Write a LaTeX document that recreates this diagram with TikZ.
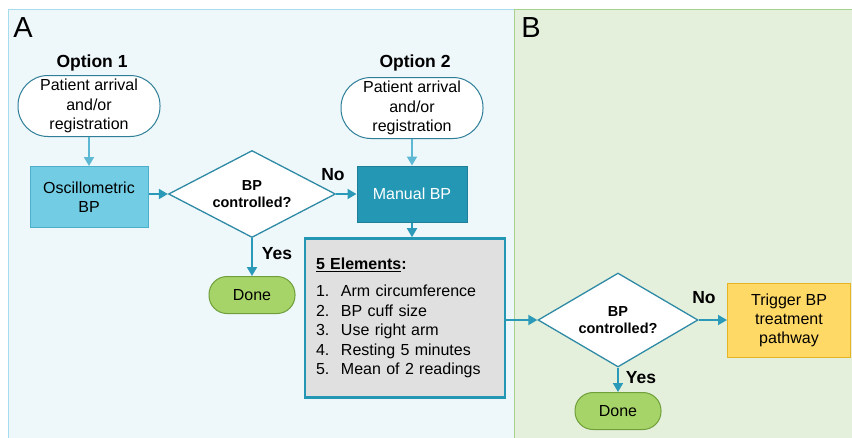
\documentclass[tikz,border=0pt]{standalone}
\usepackage{fontspec}
\setmainfont{Liberation Sans}
\usetikzlibrary{shapes.geometric,arrows.meta}
\definecolor{panelafill}{HTML}{EEF7FA}
\definecolor{panelaline}{HTML}{A6DCEB}
\definecolor{panelbfill}{HTML}{E5F0DC}
\definecolor{panelbline}{HTML}{A9D18E}
\definecolor{startline}{HTML}{2E7F97}
\definecolor{oscfill}{HTML}{71CCE4}
\definecolor{oscline}{HTML}{4BAFCB}
\definecolor{decline}{HTML}{2E8AA5}
\definecolor{manualfill}{HTML}{2497B4}
\definecolor{manualline}{HTML}{1F7F99}
\definecolor{elemfill}{HTML}{E0E0E0}
\definecolor{donefill}{HTML}{A7D468}
\definecolor{doneline}{HTML}{6E9F3A}
\definecolor{trigfill}{HTML}{FFD966}
\definecolor{trigline}{HTML}{E6B422}
\definecolor{flowcol}{HTML}{2A9AB8}
\definecolor{flowlightcol}{HTML}{5DB9D3}
\def\bodyfont{\fontsize{16}{19.5}\selectfont}
\tikzset{
	panellabel/.style={font=\fontsize{29}{32}\selectfont, inner sep=0pt},
	heading/.style={font=\bfseries\fontsize{17.5}{20}\selectfont, inner sep=0pt},
	answer/.style={font=\bfseries\fontsize{17.5}{20}\selectfont, inner sep=0pt},
	startnode/.style={draw=startline, fill=white, line width=1pt, rounded corners=30pt, minimum width=142pt, minimum height=61pt, inner sep=0pt, align=center, font=\bodyfont},
	oscbox/.style={draw=oscline, fill=oscfill, line width=1pt, minimum width=118pt, minimum height=61pt, inner sep=0pt, align=center, font=\bodyfont},
	manualbox/.style={draw=manualline, fill=manualfill, text=white, line width=1pt, minimum width=110pt, minimum height=56pt, inner sep=0pt, align=center, font=\bodyfont},
	decision/.style={diamond, aspect=1.92, draw=decline, fill=white, line width=1.3pt, minimum width=167pt, minimum height=87pt, inner sep=0pt, align=center, font=\bfseries\fontsize{14.5}{17}\selectfont},
	terminal/.style={draw=doneline, fill=donefill, line width=1pt, rounded corners=18pt, minimum width=86pt, minimum height=37pt, inner sep=0pt, font=\bodyfont},
	elementsbox/.style={draw=manualfill, fill=elemfill, line width=2.6pt, text width=178pt, minimum width=200pt, minimum height=159pt, inner sep=0pt, align=left, font=\bodyfont},
	triggerbox/.style={draw=trigline, fill=trigfill, line width=1pt, minimum width=123pt, minimum height=74pt, inner sep=0pt, align=center, font=\fontsize{16}{19}\selectfont},
	flow/.style={draw=flowcol, line width=1.8pt, -{Triangle[length=9pt,width=10pt]}},
	flowlight/.style={flow, draw=flowlightcol}
}

\begin{document}
\begin{tikzpicture}[x=1pt, y=-1pt]
		%%%%% START %%%%%
		
		\clip (0, 0) rectangle (852, 437);
		\draw[fill=panelafill, draw=panelaline, line width=1pt] (8, 9) rectangle (514, 445);
		\draw[fill=panelbfill, draw=panelbline, line width=1pt] (514, 9) rectangle (860, 445);
		\node[panellabel] (labelA) at (23, 28) {A};
		\node[panellabel] (labelB) at (531, 28) {B};
		
		% panel A
		\node[heading] (option1) at (92, 63) {Option 1};
		\node[heading] (option2) at (415, 63) {Option 2};
		\node[startnode] (start1) at (89, 106) {Patient arrival\\and/or\\registration};
		\node[startnode] (start2) at (412, 108) {Patient arrival\\and/or\\registration};
		
		\node[oscbox] (osc) at (89, 197) {Oscillometric\\BP};
		\node[decision] (dec1) at (252, 194) {BP\\controlled?};
		\node[manualbox] (manual) at (412, 194) {Manual BP};
		\node[terminal] (done1) at (252, 295) {Done};
		
		\node[elementsbox] (elements) at (405, 318) {%
			\underline{\textbf{5 Elements}}\textbf{:}\\[8pt]
			\makebox[25pt][l]{1.}Arm circumference\\
			\makebox[25pt][l]{2.}BP cuff size\\
			\makebox[25pt][l]{3.}Use right arm\\
			\makebox[25pt][l]{4.}Resting 5 minutes\\
			\makebox[25pt][l]{5.}Mean of 2 readings};
		
		\node[answer] (no1) at (333, 175) {No};
		\node[answer] (yes1) at (277, 254) {Yes};
		
		% panel B
		\node[decision, minimum width=160pt, minimum height=94pt] (dec2) at (618, 320) {BP\\controlled?};
		\node[triggerbox] (trigger) at (789, 320) {Trigger BP\\treatment\\pathway};
		\node[terminal] (done2) at (618, 411) {Done};
		
		\node[answer] (no2) at (704, 298) {No};
		\node[answer] (yes2) at (641, 378) {Yes};
		
		% connectors
		\draw[flowlight] (start1) -- (osc);
		\draw[flowlight] (start2) -- (manual);
		\draw[flow] (osc.east |- dec1) -- (dec1);
		\draw[flow] (dec1) -- (manual);
		\draw[flow] (dec1) -- (done1);
		\draw[flow] (manual) -- (manual.south |- elements.north);
		\draw[flow] (elements.east |- dec2) -- (dec2);
		\draw[flow] (dec2) -- (trigger);
		\draw[flow] (dec2) -- (done2);
		
		%%%%% END %%%%%
	\end{tikzpicture}
\end{document}
